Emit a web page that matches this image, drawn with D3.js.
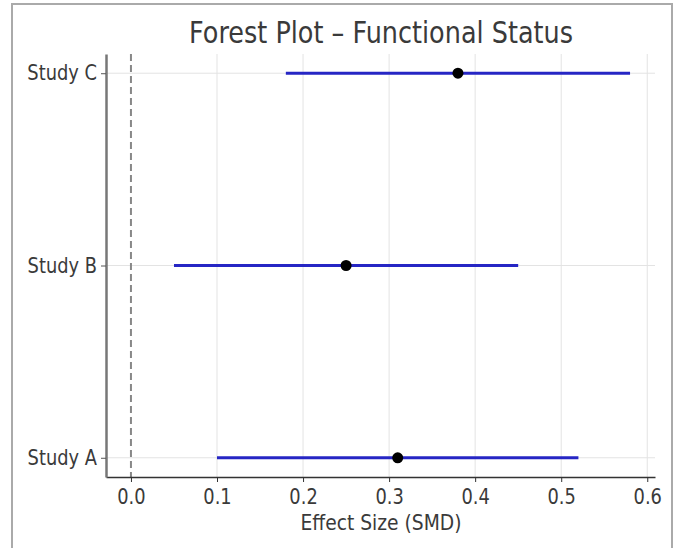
<!DOCTYPE html>
<html>
<head>
<meta charset="utf-8">
<script src="https://cdn.jsdelivr.net/npm/d3@7"></script>
<style>
	body { margin: 0; background: #fff; }
	text { font-family: "DejaVu Sans", sans-serif; fill: #3a3a3a; }
</style>
</head>
<body>
<div id="forest"></div>
<script>
let studies = ["Study A", "Study B", "Study C"];
let effects = [0.31, 0.25, 0.38];
let lower = [0.10, 0.05, 0.18];
let upper = [0.52, 0.45, 0.58];
let x_ticks = [0.0, 0.1, 0.2, 0.3, 0.4, 0.5, 0.6];
let title_text = "Forest Plot \u2013 Functional Status";
let x_label = "Effect Size (SMD)";

function forest() {
	let width = 678,
		height = 548;

	let svg = d3.select("#forest")
		.append("svg")
		.attr("width", width)
		.attr("height", height);

	// squeeze text a bit horizontally, the reference looks narrow
	let squeeze = 0.85;
	function narrow(sel) {
		sel.each(function () {
			let len = this.getComputedTextLength();
			d3.select(this)
				.attr("textLength", len * squeeze)
				.attr("lengthAdjust", "spacingAndGlyphs");
		});
	}

	// outer frame
	svg.append("rect")
		.attr("x", 12)
		.attr("y", 4)
		.attr("width", 660)
		.attr("height", 580)
		.attr("fill", "none")
		.attr("stroke", "#aaa")
		.attr("stroke-width", 2);

	let x = d3.scaleLinear()
		.domain([-0.029, 0.609])
		.range([106, 655]);

	let y = d3.scaleLinear()
		.domain([-0.1, 2.1])
		.range([477, 54]);

	let plot = svg.append("g").attr("id", "plot");

	// grid
	plot.append("g")
		.selectAll("line")
		.data(x_ticks.filter(function (d) { return d > 0; }))
		.enter()
		.append("line")
		.attr("x1", function (d) { return x(d); })
		.attr("x2", function (d) { return x(d); })
		.attr("y1", y(2.1))
		.attr("y2", y(-0.1))
		.attr("stroke", "#e3e3e3")
		.attr("stroke-width", 1);

	plot.append("g")
		.selectAll("line")
		.data(studies)
		.enter()
		.append("line")
		.attr("x1", x(-0.029))
		.attr("x2", x(0.609))
		.attr("y1", function (d, i) { return y(i); })
		.attr("y2", function (d, i) { return y(i); })
		.attr("stroke", "#e3e3e3")
		.attr("stroke-width", 1);

	// zero line
	plot.append("line")
		.attr("x1", x(0))
		.attr("x2", x(0))
		.attr("y1", y(2.1))
		.attr("y2", y(-0.1))
		.attr("stroke", "#888")
		.attr("stroke-width", 2)
		.attr("stroke-dasharray", "7,4");

	// confidence intervals
	plot.append("g")
		.selectAll("line")
		.data(studies)
		.enter()
		.append("line")
		.attr("x1", function (d, i) { return x(lower[i]); })
		.attr("x2", function (d, i) { return x(upper[i]); })
		.attr("y1", function (d, i) { return y(i); })
		.attr("y2", function (d, i) { return y(i); })
		.attr("stroke", "#2626c4")
		.attr("stroke-width", 3);

	// point estimates
	plot.append("g")
		.selectAll("circle")
		.data(studies)
		.enter()
		.append("circle")
		.attr("cx", function (d, i) { return x(effects[i]); })
		.attr("cy", function (d, i) { return y(i); })
		.attr("r", 5.5)
		.attr("fill", "#000");

	// axes
	let x_axis = plot.append("g")
		.attr("transform", "translate(0," + y(-0.1) + ")")
		.call(d3.axisBottom(x)
			.tickValues(x_ticks)
			.tickFormat(d3.format(".1f"))
			.tickSize(5)
			.tickPadding(7)
			.tickSizeOuter(0));
	x_axis.select(".domain").attr("stroke", "#333").attr("stroke-width", 1.5);
	x_axis.selectAll(".tick line").attr("stroke", "#333");
	x_axis.selectAll(".tick text")
		.attr("font-size", 21)
		.attr("fill", "#3a3a3a")
		.attr("font-family", "DejaVu Sans")
		.call(narrow);

	let y_axis = plot.append("g")
		.attr("transform", "translate(" + x(-0.029) + ",0)")
		.call(d3.axisLeft(y)
			.tickValues([0, 1, 2])
			.tickFormat(function (d) { return studies[d]; })
			.tickSize(5)
			.tickPadding(4)
			.tickSizeOuter(0));
	y_axis.select(".domain").attr("stroke", "#777").attr("stroke-width", 2.5);
	y_axis.selectAll(".tick line").attr("stroke", "#555");
	y_axis.selectAll(".tick text")
		.attr("font-size", 21)
		.attr("fill", "#3a3a3a")
		.attr("font-family", "DejaVu Sans")
		.call(narrow);

	// labels
	svg.append("text")
		.attr("x", 381)
		.attr("y", 43)
		.attr("text-anchor", "middle")
		.attr("font-size", 30)
		.attr("fill", "#454545")
		.text(title_text)
		.call(narrow);

	svg.append("text")
		.attr("x", 381)
		.attr("y", 530)
		.attr("text-anchor", "middle")
		.attr("font-size", 22)
		.text(x_label)
		.call(narrow);
}

forest();
</script>
</body>
</html>
